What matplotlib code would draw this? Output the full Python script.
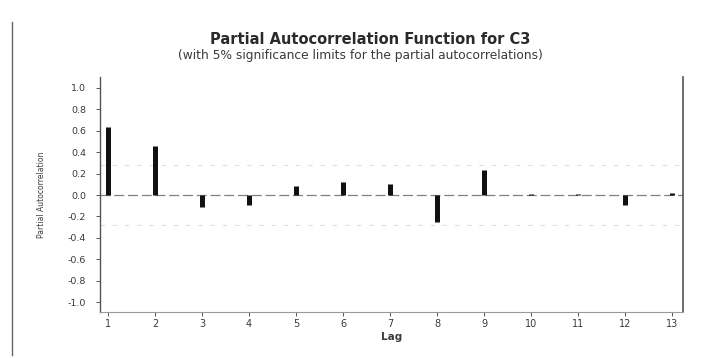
import numpy as np
import matplotlib
matplotlib.use('Agg')
import matplotlib.pyplot as plt
from matplotlib.lines import Line2D

# PACF values
lags = [1, 2, 3, 4, 5, 6, 7, 8, 9, 10, 11, 12, 13]
pacf = [0.63, 0.46, -0.11, -0.09, 0.08, 0.12, 0.10, -0.25, 0.23, 0.005, 0.01, -0.09, 0.02]
sig_limit = 0.28
ytick_vals = [1.0, 0.8, 0.6, 0.4, 0.2, 0.0, -0.2, -0.4, -0.6, -0.8, -1.0]

plt.rcParams['font.family'] = ['DejaVu Sans']
txt = '#3a3a3a'

fig = plt.figure(figsize=(7.12, 3.58), dpi=100)
ax = fig.add_axes([100/712, 1-312/358, (683-100)/712, (312-77)/358])

# significance limits and zero line
ax.axhline(sig_limit, color='#dedede', lw=0.8, ls=(0, (4, 7)))
ax.axhline(-sig_limit, color='#dedede', lw=0.8, ls=(0, (4, 7)))
ax.axhline(0, color='#808080', lw=0.9, ls=(0, (8, 3)))

ax.vlines(lags, 0, pacf, colors='#111111', lw=3.6)

ax.set_xlim(0.83, 13.23)
ax.set_ylim(-1.09, 1.1)
ax.set_xticks(lags)
ax.set_xticklabels([str(l) for l in lags], fontsize=7, color=txt)
ax.set_yticks(ytick_vals)
ax.set_yticklabels(['%.1f' % v for v in ytick_vals], fontsize=6.8, color=txt)
ax.tick_params(axis='x', length=3, width=0.7, color='#555555', pad=2)
ax.tick_params(axis='y', length=3, width=0.7, color='#555555', pad=7)

ax.spines['top'].set_visible(False)
ax.spines['left'].set_color('#555555')
ax.spines['left'].set_linewidth(1.0)
ax.spines['right'].set_color('#555555')
ax.spines['right'].set_linewidth(1.2)
ax.spines['bottom'].set_color('#999999')
ax.spines['bottom'].set_linewidth(0.8)

ax.set_xlabel('Lag', fontsize=7.5, fontweight='bold', color=txt, labelpad=2)
ax.set_ylabel('Partial Autocorrelation', fontsize=5.5, color=txt, labelpad=16)

fig.text(370/712, 1-40/358, 'Partial Autocorrelation Function for C3', ha='center', va='center',
         fontsize=10.5, fontweight='bold', color='#2a2a2a')
fig.text(360/712, 1-55/358, '(with 5% significance limits for the partial autocorrelations)',
         ha='center', va='center', fontsize=8.8, color=txt)

# page border from the scan
fig.add_artist(Line2D([12/712, 12/712], [1-355/358, 1-22/358], color='#666666', lw=1.0))

fig.savefig('out.png', dpi=100)
